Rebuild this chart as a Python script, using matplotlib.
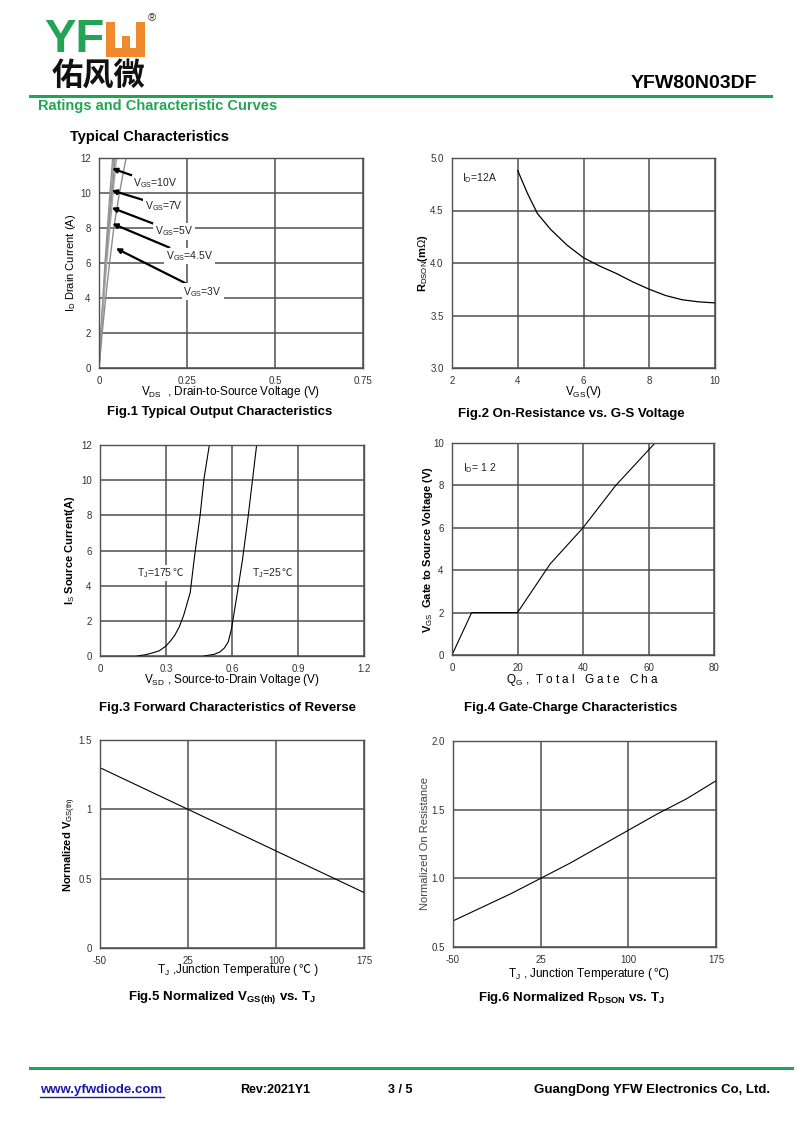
import matplotlib
matplotlib.use("Agg")
import matplotlib.pyplot as plt
from matplotlib.patches import Rectangle

plt.rcParams['font.family'] = ['Liberation Sans', 'DejaVu Sans', 'Noto Sans CJK SC']
plt.rcParams['mathtext.fontset'] = 'custom'
plt.rcParams['mathtext.rm'] = 'Liberation Sans'
plt.rcParams['mathtext.it'] = 'Liberation Sans:italic'
plt.rcParams['mathtext.bf'] = 'Liberation Sans:bold'
plt.rcParams['axes.unicode_minus'] = False

# ---------------- data ----------------
# Fig.1 output characteristics
fig1_id = [0, 2, 4, 6, 8, 10, 12]
fig1_vds_10v = [0, 0.005, 0.011, 0.017, 0.024, 0.031, 0.039]
fig1_vds_7v = [0, 0.006, 0.012, 0.019, 0.026, 0.034, 0.042]
fig1_vds_5v = [0, 0.006, 0.013, 0.020, 0.028, 0.037, 0.046]
fig1_vds_45v = [0, 0.007, 0.014, 0.022, 0.031, 0.040, 0.050]
fig1_vds_3v = [0, 0.009, 0.019, 0.030, 0.042, 0.058, 0.077]
fig1_labels = ["10V", "7V", "5V", "4.5V", "3V"]
fig1_arrow_tip_x = [0.037, 0.036, 0.036, 0.038, 0.048]
fig1_arrow_tip_y = [11.4, 10.15, 9.16, 8.25, 6.84]
fig1_label_x = [0.097, 0.13, 0.158, 0.19, 0.24]
fig1_label_y = [10.55, 9.25, 7.8, 6.4, 4.35]

# Fig.2 on-resistance vs VGS
fig2_vgs = [4.0, 4.3, 4.6, 5.0, 5.5, 6.0, 6.5, 7.0, 7.5, 8.0, 8.5, 9.0, 9.5, 10.0]
fig2_rds = [4.88, 4.66, 4.47, 4.32, 4.17, 4.05, 3.97, 3.90, 3.82, 3.75, 3.69, 3.65, 3.63, 3.62]

# Fig.3 forward characteristics
fig3_vsd_175 = [0.17, 0.21, 0.242, 0.27, 0.30, 0.32, 0.34, 0.36, 0.38, 0.41, 0.43, 0.455, 0.473, 0.497]
fig3_is_175 = [0.0, 0.08, 0.19, 0.3, 0.57, 0.85, 1.18, 1.65, 2.3, 3.6, 5.7, 8.0, 10.1, 12.0]
fig3_vsd_25 = [0.473, 0.52, 0.545, 0.565, 0.583, 0.598, 0.62, 0.648, 0.674, 0.694, 0.712]
fig3_is_25 = [0.0, 0.1, 0.23, 0.45, 0.8, 1.56, 3.26, 5.5, 8.0, 10.1, 12.0]
fig3_labels = ["175", "25"]
fig3_label_x = [0.167, 0.69]
fig3_label_y = [4.88, 4.88]

# Fig.4 gate charge
fig4_qg = [0, 6, 20, 30, 40, 50, 62]
fig4_vgs = [0, 2.0, 2.0, 4.3, 6.0, 8.0, 10.0]

# Fig.5 normalized VGS(th)
fig5_tj = [-50, 25, 100, 175]
fig5_vth = [1.30, 1.00, 0.70, 0.40]

# Fig.6 normalized RDSON
fig6_tj = [-50, 0, 25, 50, 75, 100, 125, 150, 175]
fig6_rds = [0.69, 0.89, 1.00, 1.11, 1.23, 1.35, 1.47, 1.58, 1.71]

# ---------------- page ----------------
W, H = 800, 1130
fig = plt.figure(figsize=(W / 100, H / 100), dpi=100)
fig.patch.set_facecolor('white')
renderer = fig.canvas.get_renderer()

GREEN = '#23a455'
ORANGE = '#f08a2c'
GRID = '#505050'
TICKC = '#333333'


def fx(x):
    return x / W


def fy(y):
    return 1 - y / H


def rect(l, t, r, b):
    return [l / W, 1 - b / H, (r - l) / W, (b - t) / H]


def celsius_after(t, suffix, **kw):
    """Place the ℃ part right after text t, on the same baseline (display px)."""
    bb = t.get_window_extent(renderer)
    xd, yd = t.get_transform().transform(t.get_position())
    return fig.text(bb.x1 / W, yd / H, suffix, va='baseline', ha='left', **kw)


# Header logo
fig.text(fx(44), fy(40), "YF", color=GREEN, fontsize=34, fontweight='bold',
         va='center', ha='left', family='Liberation Sans')
lw_ = 9
ox, oy, ow, oh = 106, 22, 39, 35
for (x0, y0, w0, h0) in [(ox, oy, lw_, oh), (ox + ow - lw_, oy, lw_, oh),
                         (ox, oy + oh - lw_, ow, lw_), (ox + ow / 2 - 4, oy + 14, 8, oh - 14)]:
    fig.patches.append(Rectangle((fx(x0), fy(y0 + h0)), w0 / W, h0 / H,
                                 transform=fig.transFigure, color=ORANGE, lw=0))
fig.text(fx(152), fy(18), "®", fontsize=8, va='center', ha='center', color='#333333')
fig.text(fx(52), fy(77), "佑风微", fontsize=22.5, fontweight='bold', va='center', ha='left',
         family='Noto Sans CJK SC', color='#111111')

fig.text(fx(757), fy(84), "YFW80N03DF", fontsize=14, fontweight='bold', ha='right', va='center')
fig.add_artist(plt.Line2D([fx(30), fx(771)], [fy(96), fy(96)], color=GREEN, lw=2.2,
                          transform=fig.transFigure))
fig.text(fx(38), fy(106), "Ratings and Characteristic Curves", color=GREEN, fontsize=10.5,
         fontweight='bold', ha='left', va='center')
fig.text(fx(70), fy(137), "Typical Characteristics", fontsize=10.5, fontweight='bold',
         ha='left', va='center')

# Footer
fig.add_artist(plt.Line2D([fx(30), fx(792)], [fy(1068), fy(1068)], color=GREEN, lw=2.2,
                          transform=fig.transFigure))
fig.text(fx(40), fy(1090), "www.yfwdiode.com", color='#1a1aa8', fontsize=9.5, fontweight='bold',
         ha='left', va='center')
fig.add_artist(plt.Line2D([fx(40), fx(164)], [fy(1097), fy(1097)], color='#1a1aa8', lw=1,
                          transform=fig.transFigure))
fig.text(fx(240), fy(1090), "Rev:2021Y1", fontsize=9, fontweight='bold', ha='left', va='center')
fig.text(fx(388), fy(1090), "3 / 5", fontsize=9, fontweight='bold', ha='left', va='center')
fig.text(fx(770), fy(1090), "GuangDong YFW Electronics Co, Ltd.", fontsize=9.5, fontweight='bold',
         ha='right', va='center')


def style(ax, xlim, ylim, xticks, yticks, xtl=None, ytl=None):
    ax.set_xlim(*xlim)
    ax.set_ylim(*ylim)
    ax.set_xticks(xticks)
    ax.set_yticks(yticks)
    if xtl is not None:
        ax.set_xticklabels(xtl)
    if ytl is not None:
        ax.set_yticklabels(ytl)
    ax.grid(True, color=GRID, lw=1.1)
    ax.set_axisbelow(True)
    for s in ax.spines.values():
        s.set_color(GRID)
        s.set_linewidth(1.0)
    ax.tick_params(length=0, labelsize=7, colors=TICKC, pad=6)


def ylabel_at(ax, l, r, xcenter_px):
    # ylabel anchor is its right edge (rotated text, va='bottom'); label ~11 px thick
    ax.yaxis.set_label_coords((xcenter_px + 5 - l) / (r - l), 0.5)


# ---- Fig 1 ----
L, T, R, B = 99, 158, 363, 368
ax1 = fig.add_axes(rect(L, T, R, B))
style(ax1, (0, 0.75), (0, 12), [0, 0.25, 0.5, 0.75], range(0, 13, 2),
      xtl=['0', '0.25', '0.5', '0.75'])
for vds, c in zip([fig1_vds_10v, fig1_vds_7v, fig1_vds_5v, fig1_vds_45v, fig1_vds_3v],
                  ['#909090', '#a0a0a0', '#888888', '#a8a8a8', '#8c8c8c']):
    ax1.plot(vds, fig1_id, color=c, lw=1.0)
for lab, tx, ty, lx, ly in zip(fig1_labels, fig1_arrow_tip_x, fig1_arrow_tip_y,
                               fig1_label_x, fig1_label_y):
    ax1.annotate("V$_{\\mathrm{GS}}$=" + lab, xy=(tx, ty), xytext=(lx, ly), fontsize=7.5,
                 color='#222222', va='center', ha='left',
                 bbox=dict(boxstyle='square,pad=0.15', fc='white', ec='none'),
                 arrowprops=dict(arrowstyle='-|>', color='black', lw=1.6, mutation_scale=7,
                                 shrinkA=0, shrinkB=0))
ax1.set_ylabel("I$_{\\mathrm{D}}$ Drain Current (A)", fontsize=8)
ylabel_at(ax1, L, R, 73)
ax1.set_xlabel("V$_{\\mathrm{DS}}$  , Drain-to-Source Voltage (V)", fontsize=8.5, labelpad=-2)
fig.text(fx(220), fy(412), "Fig.1 Typical Output Characteristics", fontsize=9.5,
         fontweight='bold', ha='center', va='center')

# ---- Fig 2 ----
L, T, R, B = 452, 158, 715, 368
ax2 = fig.add_axes(rect(L, T, R, B))
style(ax2, (2, 10), (3.0, 5.0), [2, 4, 6, 8, 10], [3.0, 3.5, 4.0, 4.5, 5.0],
      ytl=['3.0', '3.5', '4.0', '4.5', '5.0'])
ax2.plot(fig2_vgs, fig2_rds, color='black', lw=0.9)
ax2.text(2.3, 4.81, "I$_{\\mathrm{D}}$=12A", fontsize=7.5, ha='left', va='center', color='#222222')
ax2.set_ylabel("R$_{\\mathrm{DSON}}$(m$\\Omega$)", fontsize=8, fontweight='bold')
ylabel_at(ax2, L, R, 425)
ax2.set_xlabel("V$_{\\mathrm{GS}}$(V)", fontsize=8.5, labelpad=-2)
fig.text(fx(571), fy(414), "Fig.2 On-Resistance vs. G-S Voltage", fontsize=9.5,
         fontweight='bold', ha='center', va='center')

# ---- Fig 3 ----
L, T, R, B = 100, 445, 364, 656
ax3 = fig.add_axes(rect(L, T, R, B))
style(ax3, (0, 1.2), (0, 12), [0, 0.3, 0.6, 0.9, 1.2], range(0, 13, 2),
      xtl=['0', '0.3', '0.6', '0.9', '1.2'])
ax3.plot(fig3_vsd_175, fig3_is_175, color='black', lw=0.8)
ax3.plot(fig3_vsd_25, fig3_is_25, color='black', lw=0.8)
for lab, lx, ly in zip(fig3_labels, fig3_label_x, fig3_label_y):
    t = ax3.text(lx, ly - 0.35, "T$_{\\mathrm{J}}$=" + lab, fontsize=7.5, ha='left',
                 va='baseline', color='#222222',
                 bbox=dict(boxstyle='square,pad=0.1', fc='white', ec='none'))
    celsius_after(t, "℃", fontsize=7.5, color='#222222', family='Noto Sans CJK SC',
                  bbox=dict(boxstyle='square,pad=0.05', fc='white', ec='none'))
ax3.set_ylabel("I$_{\\mathrm{S}}$ Source Current(A)", fontsize=8, fontweight='bold')
ylabel_at(ax3, L, R, 72)
ax3.set_xlabel("V$_{\\mathrm{SD}}$ , Source-to-Drain Voltage (V)", fontsize=8.5, labelpad=-2)
fig.text(fx(228), fy(708), "Fig.3 Forward Characteristics of Reverse", fontsize=9.5,
         fontweight='bold', ha='center', va='center')

# ---- Fig 4 ----
L, T, R, B = 452, 443, 714, 655
ax4 = fig.add_axes(rect(L, T, R, B))
style(ax4, (0, 80), (0, 10), [0, 20, 40, 60, 80], range(0, 11, 2))
ax4.plot(fig4_qg, fig4_vgs, color='black', lw=0.8)
ax4.text(3.4, 8.8, "I$_{\\mathrm{D}}$= 1 2", fontsize=7.5, ha='left', va='center', color='#222222')
ax4.set_ylabel("V$_{\\mathrm{GS}}$  Gate to Source Voltage (V)", fontsize=8, fontweight='bold')
ylabel_at(ax4, L, R, 430)
ax4.set_xlabel("Q$_{\\mathrm{G}}$ ,  T o t a l   G a t e   C h a", fontsize=8.5, labelpad=-1)
fig.text(fx(571), fy(708), "Fig.4 Gate-Charge Characteristics", fontsize=9.5,
         fontweight='bold', ha='center', va='center')

# ---- Fig 5 ----
L, T, R, B = 100, 740, 364, 948
ax5 = fig.add_axes(rect(L, T, R, B))
style(ax5, (-50, 175), (0, 1.5), [-50, 25, 100, 175], [0, 0.5, 1, 1.5],
      ytl=['0', '0.5', '1', '1.5'])
ax5.plot(fig5_tj, fig5_vth, color='black', lw=0.8)
ax5.set_ylabel("Normalized V$_{\\mathrm{GS(th)}}$", fontsize=8, fontweight='bold')
ylabel_at(ax5, L, R, 73)
t5 = fig.text(fx(157), fy(973), "T$_{\\mathrm{J}}$ ,Junction Temperature (", fontsize=8.5,
              ha='left', va='baseline')
t5b = celsius_after(t5, "℃", fontsize=8.5, family='Noto Sans CJK SC')
celsius_after(t5b, " )", fontsize=8.5)
fig.text(fx(222), fy(998), "Fig.5 Normalized V$_{\\mathbf{GS(th)}}$ vs. T$_{\\mathbf{J}}$",
         fontsize=9.5, fontweight='bold', ha='center', va='center')

# ---- Fig 6 ----
L, T, R, B = 453, 741, 716, 947
ax6 = fig.add_axes(rect(L, T, R, B))
style(ax6, (-50, 175), (0.5, 2.0), [-50, 25, 100, 175], [0.5, 1.0, 1.5, 2.0],
      ytl=['0.5', '1.0', '1.5', '2.0'])
ax6.plot(fig6_tj, fig6_rds, color='black', lw=0.8)
ax6.set_ylabel("Normalized On Resistance", fontsize=8, color='#444444')
ylabel_at(ax6, L, R, 425)
t6 = fig.text(fx(508), fy(977), "T$_{\\mathrm{J}}$ , Junction Temperature (", fontsize=8.5,
              ha='left', va='baseline')
t6b = celsius_after(t6, "℃", fontsize=8.5, family='Noto Sans CJK SC')
celsius_after(t6b, ")", fontsize=8.5)
fig.text(fx(571), fy(998), "Fig.6 Normalized R$_{\\mathbf{DSON}}$ vs. T$_{\\mathbf{J}}$",
         fontsize=9.5, fontweight='bold', ha='center', va='center')

fig.savefig("out.png", dpi=100, facecolor='white')
